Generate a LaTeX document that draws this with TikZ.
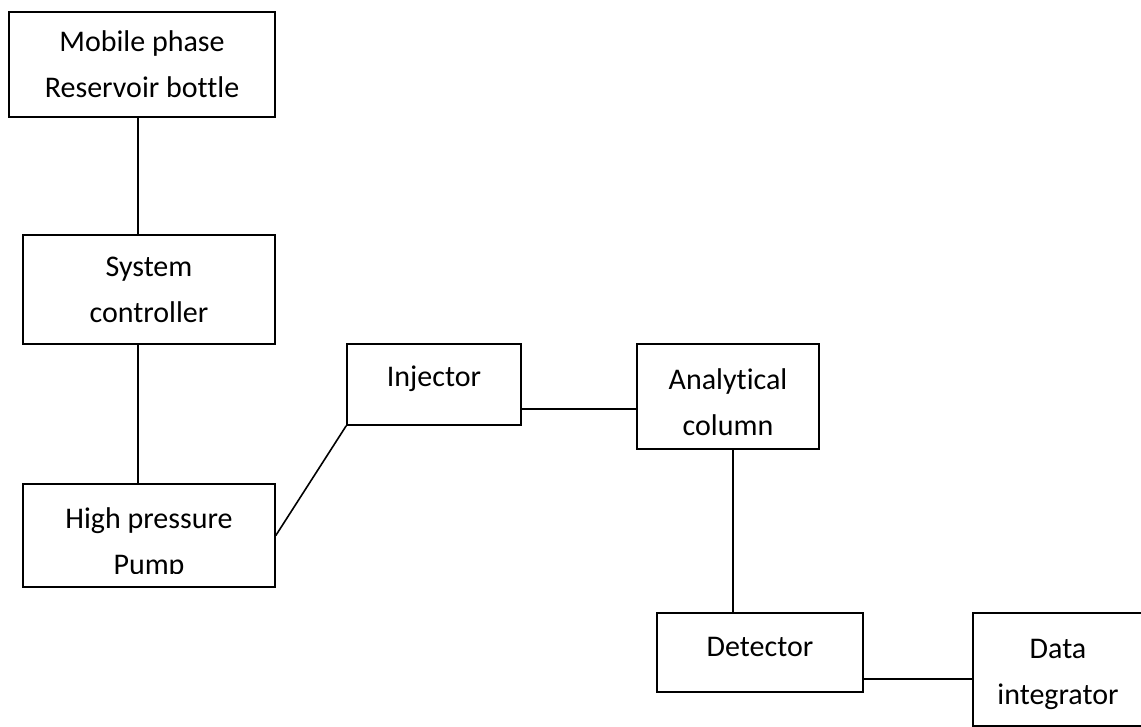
\documentclass[tikz,border=0pt]{standalone}
\usepackage{fontspec}
\setmainfont{Carlito}[Ligatures={NoCommon}]
\usetikzlibrary{positioning,calc}

\tikzset{
  blk/.style={draw, rectangle, line width=1.6pt, align=center, inner sep=0pt},
  txt/.style={align=center, inner sep=0pt},
  link/.style={line width=1.6pt}
}

\begin{document}
\begin{tikzpicture}[x=1pt, y=-1pt, font=\fontsize{30}{46}\selectfont]
            \clip (0,0) rectangle (1141,727);
            
            \node[blk, minimum width=266pt, minimum height=105pt] (res) at (142,64.5) {Mobile phase\\Reservoir bottle};
            
            \node[blk, minimum width=252pt, minimum height=109pt] (ctl) at (149,289.5) {System\\controller};
            
            \node[blk, minimum width=252pt, minimum height=103pt] (pump) at (149,535.5) {};
            \begin{scope}
                \clip (pump.north west) rectangle ([yshift=14pt]pump.south east);
                \node[txt] (pumptxt) at ([yshift=-8pt]pump.center) {High pressure\\Pump};
            \end{scope}
            
            \node[blk, minimum width=174pt, minimum height=81pt] (inj) at (434,384.5) {};
            \node[txt] (injtxt) at (434,379) {Injector};
            
            \node[blk, minimum width=182pt, minimum height=105pt] (col) at (728,396.5) {};
            \node[txt] (coltxt) at (728,402) {Analytical\\column};
            
            \node[blk, minimum width=206pt, minimum height=79pt] (det) at (760,652.5) {};
            \node[txt] (dettxt) at (760,647) {Detector};
            
            \node[blk, minimum width=170pt, minimum height=113pt] (dat) at (1058,669.5) {};
            \node[txt] (dattxt) at (1058,674) {Data\\integrator};
            
            % connectors
            \draw[link] ([xshift=-4pt]res.south) -- ([xshift=-4pt]res.south |- ctl.north);
            \draw[link] ([xshift=-11pt]ctl.south) -- ([xshift=-11pt]ctl.south |- pump.north);
            \draw[link] (pump.east) -- (inj.south west);
            \draw[link] ([yshift=-24.5pt]inj.east) -- ([yshift=-24.5pt]inj.east -| col.west);
            \draw[link] ([xshift=5pt]col.south) -- ([xshift=5pt]col.south |- det.north);
            \draw[link] ([yshift=-26.5pt]det.east) -- ([yshift=-26.5pt]det.east -| dat.west);
        \end{tikzpicture}
\end{document}
